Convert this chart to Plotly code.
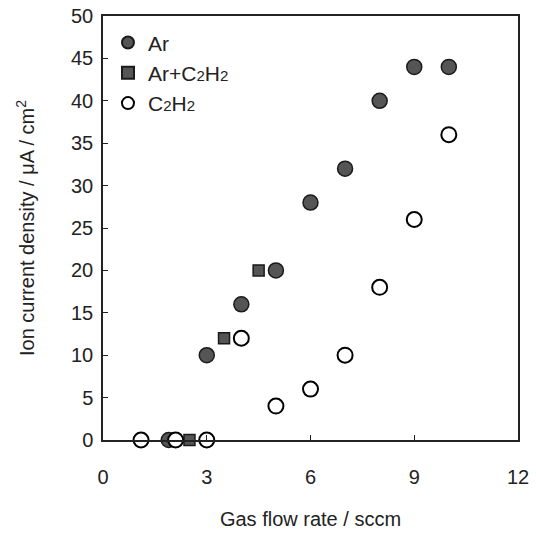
import plotly.graph_objects as go

# Data
ar_x = [1.9, 3, 4, 5, 6, 7, 8, 9, 10]
ar_y = [0, 10, 16, 20, 28, 32, 40, 44, 44]

mix_x = [2.5, 3.5, 4.5]
mix_y = [0, 12, 20]

c2h2_x = [1.1, 2.1, 3, 4, 5, 6, 7, 8, 9, 10]
c2h2_y = [0, 0, 0, 12, 4, 6, 10, 18, 26, 36]

x_ticks = [0, 3, 6, 9, 12]
y_ticks = [0, 5, 10, 15, 20, 25, 30, 35, 40, 45, 50]

FONT = "Liberation Sans, Arial, Helvetica, sans-serif"
sub = lambda s: f'<span style="font-size:15px">{s}</span>'

fig = go.Figure()
fig.add_trace(go.Scatter(
    x=ar_x, y=ar_y, mode="markers", name="Ar", legendgroup="a",
    marker=dict(symbol="circle", size=15, color="#555555",
                line=dict(color="#1a1a1a", width=1.5)),
    cliponaxis=False))
fig.add_trace(go.Scatter(
    x=mix_x, y=mix_y, mode="markers", name="Ar+C" + sub("2") + "H" + sub("2"),
    legendgroup="b",
    marker=dict(symbol="square", size=11, color="#555555",
                line=dict(color="#1a1a1a", width=1.5)),
    cliponaxis=False))
fig.add_trace(go.Scatter(
    x=c2h2_x, y=c2h2_y, mode="markers", name="C" + sub("2") + "H" + sub("2"),
    legendgroup="c",
    marker=dict(symbol="circle", size=15, color="white",
                line=dict(color="black", width=2)),
    cliponaxis=False))

fig.update_layout(
    width=536, height=534,
    margin=dict(l=103, r=18, t=16, b=94),
    paper_bgcolor="white", plot_bgcolor="white",
    font=dict(family=FONT, size=20, color="#222222"),
    showlegend=True,
    legend=dict(x=0.012, y=0.985, xanchor="left", yanchor="top",
                bgcolor="rgba(0,0,0,0)", font=dict(size=21),
                tracegroupgap=0, itemsizing="constant"),
)
fig.update_xaxes(
    range=[0, 12], tickvals=x_ticks, ticks="inside", ticklen=5,
    tickcolor="#222", showline=True, linecolor="#222", linewidth=1.5,
    mirror=True, showgrid=False, zeroline=False, automargin=False,
    tickfont=dict(size=20), ticklabelstandoff=18,
    title=dict(text="Gas flow rate / sccm", font=dict(size=20), standoff=25),
)
fig.update_yaxes(
    range=[0, 50], tickvals=y_ticks, ticks="inside", ticklen=5,
    tickcolor="#222", showline=True, linecolor="#222", linewidth=1.5,
    mirror=True, showgrid=False, zeroline=False, automargin=False,
    tickfont=dict(size=20), ticklabelstandoff=4,
    title=dict(text="Ion current density / μA / cm<sup>2</sup>",
               font=dict(size=20), standoff=31),
)

fig.write_html("out.html")
